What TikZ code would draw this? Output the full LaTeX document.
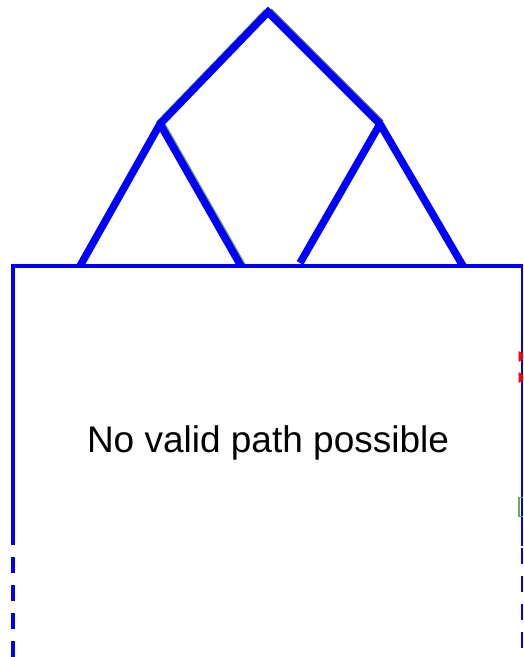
\documentclass[tikz,border=0pt]{standalone}
\usepackage{fontspec}
\setmainfont{Liberation Sans}
\usetikzlibrary{positioning}
\definecolor{trblue}{HTML}{0000FF}
\definecolor{trgreen}{HTML}{70AD47}
\definecolor{trgray}{HTML}{6E6E6E}
\definecolor{trred}{HTML}{FF0000}
\tikzset{
  treeedge/.style={draw=trblue, line width=7.5pt, line cap=butt},
  edgeshade/.style={line width=7.5pt, line cap=butt},
  frameline/.style={draw=trblue, line cap=butt},
  framedash/.style={frameline, dash pattern=on 16pt off 12pt},
  msgtext/.style={font=\fontsize{37}{40}\selectfont, text=black, inner sep=0pt},
}
\begin{document}
\begin{tikzpicture}[x=1pt, y=-1pt]
\useasboundingbox (0, 0) rectangle (523, 657);
\clip (0, 0) rectangle (523, 657);

% Tree points.
\coordinate (top) at (268, 12);
\coordinate (lmid) at (160, 124);
\coordinate (rmid) at (380, 124);
\coordinate (leafa) at (80, 266);
\coordinate (leafb) at (241, 266);
\coordinate (leafc) at (300, 263);
\coordinate (leafd) at (463, 266);

% Thin shades under some of the edges.
\draw[edgeshade, draw=trgreen] ([shift={(-1.2, 0.2)}]top)
  -- ([shift={(-1.2, 0.2)}]lmid);
\draw[edgeshade, draw=trgreen] ([shift={(1.3, -0.2)}]lmid)
  -- ([shift={(1.3, -0.2)}]leafb);
\draw[edgeshade, draw=trgray] ([shift={(1.0, -0.8)}]top)
  -- ([shift={(1.0, -0.8)}]rmid);

% Tree edges.
\draw[treeedge] (leafa) -- (lmid) -- (top) -- (rmid) -- (leafd);
\draw[treeedge] (lmid) -- (leafb);
\draw[treeedge] (rmid) -- (leafc);

% Frame below the tree.
\coordinate (tl) at (11, 266);
\coordinate (tr) at (523, 266);
\coordinate (lcut) at (13, 529);
\coordinate (lbot) at (13, 657);
\coordinate (rcut) at (521.8, 546);
\coordinate (rbot) at (521.8, 660);
\draw[frameline, line width=3.5pt] (tl) -- (tr);
\draw[frameline, line width=4pt] (13, 264.5) -- (lcut);
\draw[framedash, line width=4pt] (lcut) -- (lbot);
\draw[frameline, line width=2.2pt] (521.8, 264.5) -- (rcut);
\draw[framedash, line width=2.2pt, dash phase=-2pt] (rcut) -- (rbot);

% Fragments at the right border.
\fill[trred] (518.5, 351) -- (528, 356.5) -- (518.5, 362) -- cycle;
\fill[trred] (518.5, 372) -- (528, 377.5) -- (518.5, 383) -- cycle;
\draw[draw=trgreen, line width=1.6pt] (519, 497.5) rectangle (527, 516.5);

% Message.
\node[msgtext, anchor=base] (msg) at (268, 452) {No valid path possible};

\end{tikzpicture}
\end{document}
